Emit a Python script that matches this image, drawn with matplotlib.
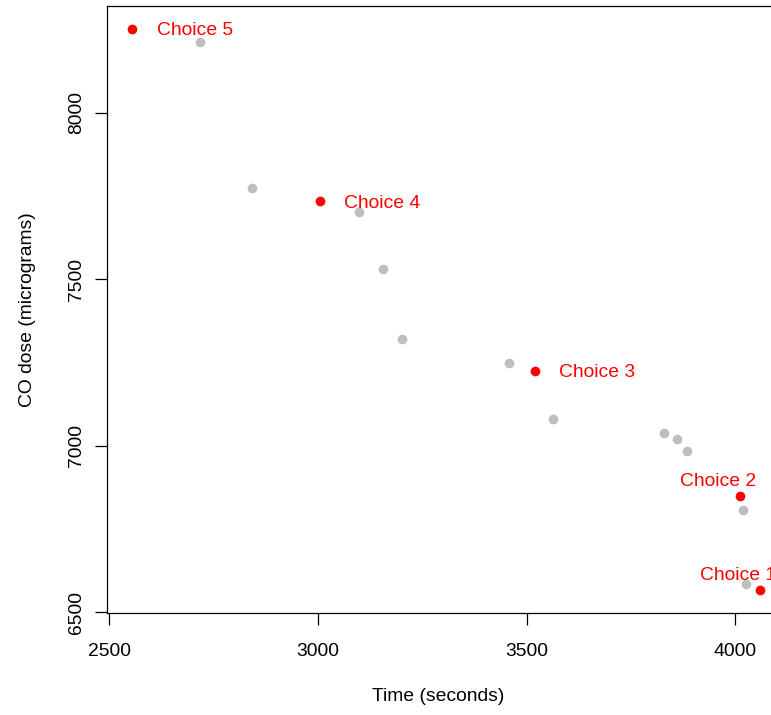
import matplotlib
matplotlib.use("Agg")
import matplotlib.pyplot as plt

plt.rcParams['font.family'] = ['Liberation Sans', 'DejaVu Sans']

# Grey points (other options)
other_time = [2718, 2841, 3098, 3156, 3201, 3458, 3563, 3830, 3860, 3883, 4017, 4026]
other_dose = [8212, 7774, 7701, 7529, 7321, 7247, 7081, 7037, 7019, 6985, 6808, 6585]

# Red points (choices)
choice_labels = ["Choice 1", "Choice 2", "Choice 3", "Choice 4", "Choice 5"]
choice_time = [4058, 4010, 3520, 3004, 2555]
choice_dose = [6566, 6848, 7224, 7733, 8252]

x_ticks = [2500, 3000, 3500, 4000]
y_ticks = [6500, 7000, 7500, 8000]

fig = plt.figure(figsize=(7.71, 7.15), dpi=100)
ax = fig.add_axes([0.1388, 0.1431, 0.8791, 0.8483])

all_x = other_time + choice_time
all_y = other_dose + choice_dose
rx = max(all_x) - min(all_x)
ry = max(all_y) - min(all_y)
ax.set_xlim(min(all_x) - 0.04 * rx, max(all_x) + 0.04 * rx)
ax.set_ylim(min(all_y) - 0.04 * ry, max(all_y) + 0.04 * ry)

ax.plot(other_time, other_dose, 'o', color='#BEBEBE', markersize=7, markeredgewidth=0, linestyle='none')
ax.plot(choice_time, choice_dose, 'o', color='#FF0000', markersize=7, markeredgewidth=0, linestyle='none')

for lab, x, y in zip(choice_labels, choice_time, choice_dose):
    if lab in ("Choice 1", "Choice 2"):
        ax.annotate(lab, (x, y), xytext=(-15.8, 10.3), textcoords='offset points',
                    ha='center', va='center', color='#FF0000', fontsize=13.9)
    else:
        ax.annotate(lab, (x, y), xytext=(17.6, -1.4), textcoords='offset points',
                    ha='left', va='center', color='#FF0000', fontsize=13.9)

ax.set_xticks(x_ticks)
ax.set_xticklabels([str(t) for t in x_ticks], fontsize=13.9)
ax.set_yticks(y_ticks)
ax.set_yticklabels([str(t) for t in y_ticks], fontsize=13.9, rotation=90, va='center')
ax.tick_params(axis='both', length=8.8, width=0.9, color='black')
ax.tick_params(axis='x', pad=13)
ax.tick_params(axis='y', pad=7)

for s in ax.spines.values():
    s.set_linewidth(0.9)
    s.set_color('black')

ax.set_xlabel("Time (seconds)", fontsize=13.9)
ax.set_ylabel("CO dose (micrograms)", fontsize=13.9)
ax.xaxis.set_label_coords(0.4886, -0.139)
ax.xaxis.label.set_va('center')
ax.yaxis.set_label_coords(-0.118, 0.5)
ax.yaxis.label.set_va('center')

fig.savefig("out.png", dpi=100)
